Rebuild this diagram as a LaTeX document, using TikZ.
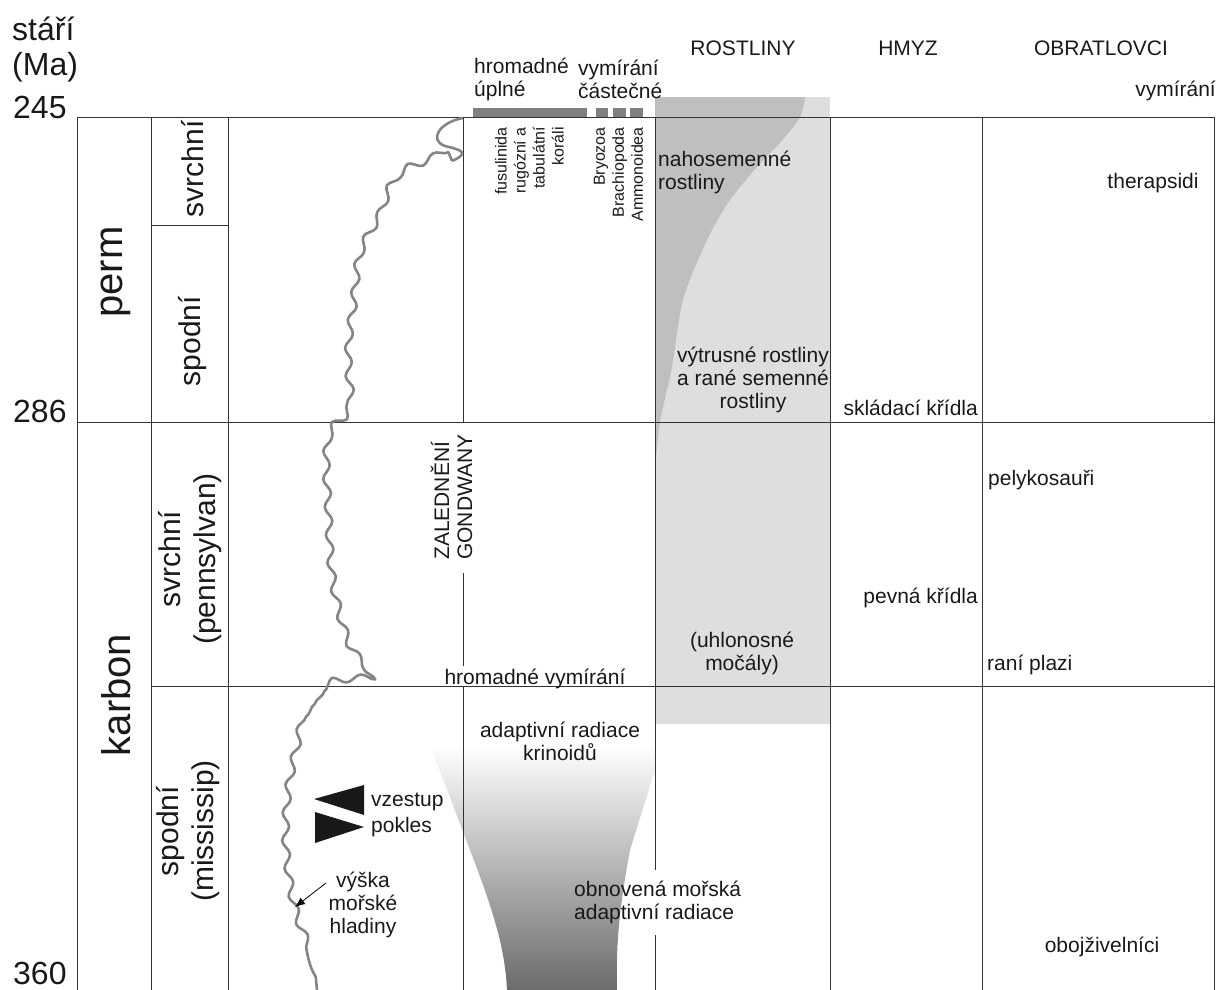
\documentclass[tikz,border=0pt]{standalone}
\usepackage{fontspec}
\setmainfont{Liberation Sans}
\usetikzlibrary{arrows.meta,decorations.pathmorphing}
\tikzset{
  gridline/.style={draw=black!80, line width=1pt},
  lbl/.style={font=\fontsize{21}{23}\selectfont, inner sep=0pt, text=black!90, align=center},
  agelbl/.style={font=\fontsize{32}{36}\selectfont, inner sep=0pt, text=black!90, anchor=base west},
  period/.style={font=\fontsize{40}{44}\selectfont, inner sep=0pt, text=black!90, rotate=90},
  epoch/.style={font=\fontsize{30}{35}\selectfont, inner sep=0pt, text=black!90, rotate=90, align=center},
  taxon/.style={font=\fontsize{16}{19}\selectfont, inner sep=0pt, text=black!90, rotate=90, align=right, anchor=east},
  sealine/.style={draw=black!48, line width=2.6pt, line join=round},
  wavy/.style={decorate, decoration={snake, segment length=28pt, amplitude=3.5pt}},
  extbar/.style={fill=black!50},
  leaflight/.style={fill=black!13},
  leafdark/.style={fill=black!25},
  pointer/.style={-{Latex[length=10pt,width=8pt]}, line width=0.8pt}
}

\begin{document}
\begin{tikzpicture}[x=1pt, y=-1pt]
  \useasboundingbox (0,0) rectangle (1218,990);

  \fill[leaflight] (655,97) rectangle (830,724);
  \fill[leafdark] (655,97) -- plot[smooth] coordinates {(805,97) (800,117) (780,143) (763,160) (730,200) (707,240) (683,300) (672,367) (660,422) (655,470)} -- cycle;
  \shade[top color=white, bottom color=black!58] (430,745) -- (655,745) -- (655,770) -- (630,850) .. controls (618,915) and (616,950) .. (617,990) -- (507,990) .. controls (505,950) and (495,915) .. (470,850) -- cycle;

  \fill[extbar] (473,108) rectangle (587,117);
  \fill[extbar] (596,108) rectangle (608,117);
  \fill[extbar] (613,108) rectangle (626,117);
  \fill[extbar] (630,108) rectangle (643,117);

  \draw[gridline] (77,117) -- (1214,117);
  \draw[gridline] (77,422) -- (1214,422);
  \draw[gridline] (151,225) -- (228,225);
  \draw[gridline] (151,686) -- (1214,686);
  \foreach \x in {77,151,228,830,982,1214}
    \draw[gridline] (\x,117) -- (\x,990);
  \draw[gridline] (463,117) -- (463,423) (463,573) -- (463,666) (463,686) -- (463,990);
  \draw[gridline] (655,117) -- (655,870) (655,935) -- (655,990);

  \draw[sealine] (463,118) .. controls (440,122) and (428,140) .. (445,146) .. controls (462,150) and (470,153) .. (452,161);
  \draw[sealine, wavy] plot[smooth, tension=0.6] coordinates {(452,161) (433,172) (407,183) (393,200) (383,227) (370,250) (362,273) (357,317) (353,347) (352,377) (353,420) (333,442) (328,470) (330,520) (333,580) (340,620) (350,653) (360,670) (370,683) (368,693) (333,697) (317,707) (313,720) (305,727) (300,750) (290,800) (287,850) (292,900) (300,933) (313,967) (317,990)};

  \node[agelbl] (agehead) at (12,41) {stáří};
  \node[agelbl] (ageunit) at (12,76) {(Ma)};
  \node[agelbl] (ma245) at (13,118) {245};
  \node[agelbl] (ma286) at (13,422) {286};
  \node[agelbl] (ma360) at (13,984) {360};

  \node[period] (perm) at (116,272) {perm};
  \node[period] (karbon) at (116,695) {karbon};
  \node[epoch] (permup) at (193,169) {svrchní};
  \node[epoch] (permlow) at (193,341) {spodní};
  \node[epoch] (carbup) at (190,559) {svrchní\\(pennsylvan)};
  \node[epoch] (carblow) at (188,831) {spodní\\(mississip)};

  \node[lbl, align=left, anchor=west] (masshead) at (474,79) {hromadné\\úplné};
  \node[lbl, align=left, anchor=west] (parthead) at (578,79) {vymírání\\částečné};
  \node[lbl] (planthead) at (743,48) {ROSTLINY};
  \node[lbl] (insecthead) at (908,48) {HMYZ};
  \node[lbl] (verthead) at (1101,48) {OBRATLOVCI};
  \node[lbl, anchor=east] (vertext) at (1216,91) {vymírání};

  \node[taxon] (corals) at (529.5,127) {fusulinida\\rugózní a\\tabulátní\\koráli};
  \node[taxon] (brachio) at (618.5,127) {Bryozoa\\Brachiopoda\\Ammonoidea};

  \node[lbl, rotate=90, align=left, anchor=west] (glacial) at (451.5,560) {ZALEDNĚNÍ\\GONDWANY};
  \node[lbl] (carbext) at (535,679) {hromadné vymírání};
  \node[lbl] (crinoid) at (560,741) {adaptivní radiace\\krinoidů};
  \node[lbl, align=left, anchor=west] (marine) at (574,902) {obnovená mořská\\adaptivní radiace};

  \node[lbl, align=left, anchor=west] (gymno) at (658,172) {nahosemenné\\rostliny};
  \node[lbl] (spore) at (753,380) {výtrusné rostliny\\a rané semenné\\rostliny};
  \node[lbl] (coal) at (742,653) {(uhlonosné\\močály)};

  \node[lbl, anchor=east] (foldwing) at (978,408) {skládací křídla};
  \node[lbl, anchor=east] (fixwing) at (978,598) {pevná křídla};

  \node[lbl] (therap) at (1153,183) {therapsidi};
  \node[lbl, anchor=west] (pelyko) at (988,480) {pelykosauři};
  \node[lbl, anchor=west] (reptile) at (987,665) {raní plazi};
  \node[lbl] (amphib) at (1102,947) {obojživelníci};

  \fill[black!90] (314,799) -- (364,785) -- (364,815) -- cycle;
  \fill[black!90] (315,812) -- (315,843) -- (364,827) -- cycle;
  \node[lbl, anchor=west] (rise) at (371,802) {vzestup};
  \node[lbl, anchor=west] (fall) at (371,827) {pokles};

  \node[lbl] (sealbl) at (363,905) {výška\\mořské\\hladiny};
  \coordinate (slstart) at (326,883);
  \coordinate (sltip) at (295,907);
  \draw[pointer] (slstart) -- (sltip);
\end{tikzpicture}
\end{document}
